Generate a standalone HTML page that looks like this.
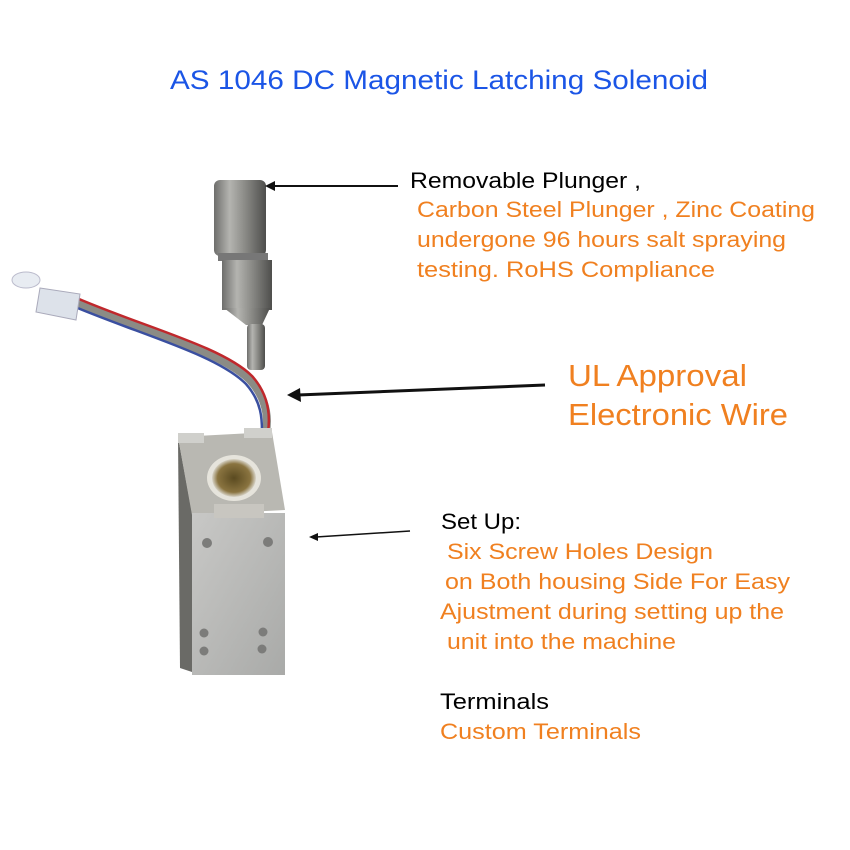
<!DOCTYPE html>
<html><head><meta charset="utf-8"><style>
html,body{margin:0;padding:0;background:#fff}
svg{display:block}
text{font-family:"Liberation Sans",Arial,sans-serif}
</style></head><body>
<svg width="850" height="850" viewBox="0 0 850 850" xmlns="http://www.w3.org/2000/svg">
<defs>
<linearGradient id="cyl" x1="0" x2="1" y1="0" y2="0">
<stop offset="0" stop-color="#6e6e6c"/><stop offset="0.3" stop-color="#b4b4b0"/><stop offset="0.6" stop-color="#8a8a86"/><stop offset="1" stop-color="#4e4e4c"/></linearGradient>
<linearGradient id="face" x1="0" x2="1" y1="0" y2="1">
<stop offset="0" stop-color="#c8c8c6"/><stop offset="1" stop-color="#a9aaa8"/></linearGradient>
<radialGradient id="bore" cx="0.5" cy="0.5" r="0.5">
<stop offset="0" stop-color="#5a4a20"/><stop offset="0.75" stop-color="#8a7440"/><stop offset="1" stop-color="#d8d4c8"/></radialGradient>
</defs>
<text x="170" y="89" font-size="27" fill="#1b55e6" textLength="538" lengthAdjust="spacingAndGlyphs">AS 1046 DC Magnetic Latching Solenoid</text>

<!-- plunger -->
<rect x="214" y="180" width="52" height="76" rx="6" fill="url(#cyl)"/>
<rect x="218" y="253" width="50" height="8" fill="#777"/>
<rect x="222" y="260" width="50" height="50" fill="url(#cyl)"/>
<polygon points="224,308 270,308 262,325 246,325" fill="url(#cyl)"/>
<rect x="247" y="324" width="18" height="46" rx="4" fill="url(#cyl)"/>

<!-- wires -->
<path d="M70,300 C140,330 220,350 250,380 C268,400 268,420 266,432" stroke="#8b8b85" stroke-width="8" fill="none"/>
<path d="M72,296 C140,326 222,346 252,376 C270,396 270,418 268,432" stroke="#c0282c" stroke-width="2.5" fill="none"/>
<path d="M68,304 C138,334 216,354 246,384 C262,402 262,420 262,432" stroke="#3a4fa0" stroke-width="2.5" fill="none"/>
<polygon points="40,288 80,294 76,320 36,312" fill="#dde2ea" stroke="#aab" stroke-width="1"/>
<ellipse cx="26" cy="280" rx="14" ry="8" fill="#e8ecf2" stroke="#bbc" stroke-width="1"/>

<!-- solenoid body -->
<polygon points="178,437 192,513 192,672 180,668" fill="#6a6a66"/>
<polygon points="178,437 272,432 285,510 192,515" fill="#b9b8b2"/>
<rect x="178" y="433" width="26" height="10" fill="#d0d0cc"/>
<rect x="244" y="428" width="28" height="10" fill="#d0d0cc"/>
<rect x="192" y="513" width="93" height="162" fill="url(#face)"/>
<rect x="214" y="504" width="50" height="14" fill="#c8c6c0"/>
<ellipse cx="234" cy="478" rx="27" ry="23" fill="#e6e4dc"/>
<ellipse cx="234" cy="478" rx="22" ry="19" fill="url(#bore)"/>
<g fill="#7c7c7a">
<circle cx="207" cy="543" r="5"/><circle cx="268" cy="542" r="5"/>
<circle cx="204" cy="633" r="4.5"/><circle cx="263" cy="632" r="4.5"/>
<circle cx="204" cy="651" r="4.5"/><circle cx="262" cy="649" r="4.5"/>
</g>

<!-- arrows -->
<g stroke="#111" fill="#111">
<line x1="398" y1="186" x2="272" y2="186" stroke-width="2"/>
<polygon points="265,186 275,181 275,191" stroke="none"/>
<line x1="545" y1="385" x2="298" y2="395" stroke-width="3"/>
<polygon points="287,395 300,388 301,402" stroke="none"/>
<line x1="410" y1="531" x2="316" y2="537" stroke-width="1.5"/>
<polygon points="309,537 318,533 318,541" stroke="none"/>
</g>

<g font-size="22">
<text x="410" y="188" fill="#000" textLength="231" lengthAdjust="spacingAndGlyphs">Removable Plunger ,</text>
<g fill="#f08020">
<text x="417" y="217" textLength="398" lengthAdjust="spacingAndGlyphs">Carbon Steel Plunger , Zinc Coating</text>
<text x="417" y="247" textLength="369" lengthAdjust="spacingAndGlyphs">undergone 96 hours salt spraying</text>
<text x="417" y="277" textLength="298" lengthAdjust="spacingAndGlyphs">testing.  RoHS Compliance</text>
</g>
<text x="568" y="386" font-size="31" fill="#f08020" textLength="179" lengthAdjust="spacingAndGlyphs">UL Approval</text>
<text x="568" y="425" font-size="31" fill="#f08020" textLength="220" lengthAdjust="spacingAndGlyphs">Electronic Wire</text>
<text x="441" y="529" fill="#000" textLength="80" lengthAdjust="spacingAndGlyphs">Set Up:</text>
<g fill="#f08020">
<text x="447" y="559" textLength="266" lengthAdjust="spacingAndGlyphs">Six Screw Holes Design</text>
<text x="445" y="589" textLength="345" lengthAdjust="spacingAndGlyphs">on Both housing Side For Easy</text>
<text x="440" y="619" textLength="344" lengthAdjust="spacingAndGlyphs">Ajustment during setting up the</text>
<text x="447" y="649" textLength="229" lengthAdjust="spacingAndGlyphs">unit into the machine</text>
</g>
<text x="440" y="709" fill="#000" textLength="109" lengthAdjust="spacingAndGlyphs">Terminals</text>
<text x="440" y="739" fill="#f08020" textLength="201" lengthAdjust="spacingAndGlyphs">Custom Terminals</text>
</g>
</svg>
</body></html>
